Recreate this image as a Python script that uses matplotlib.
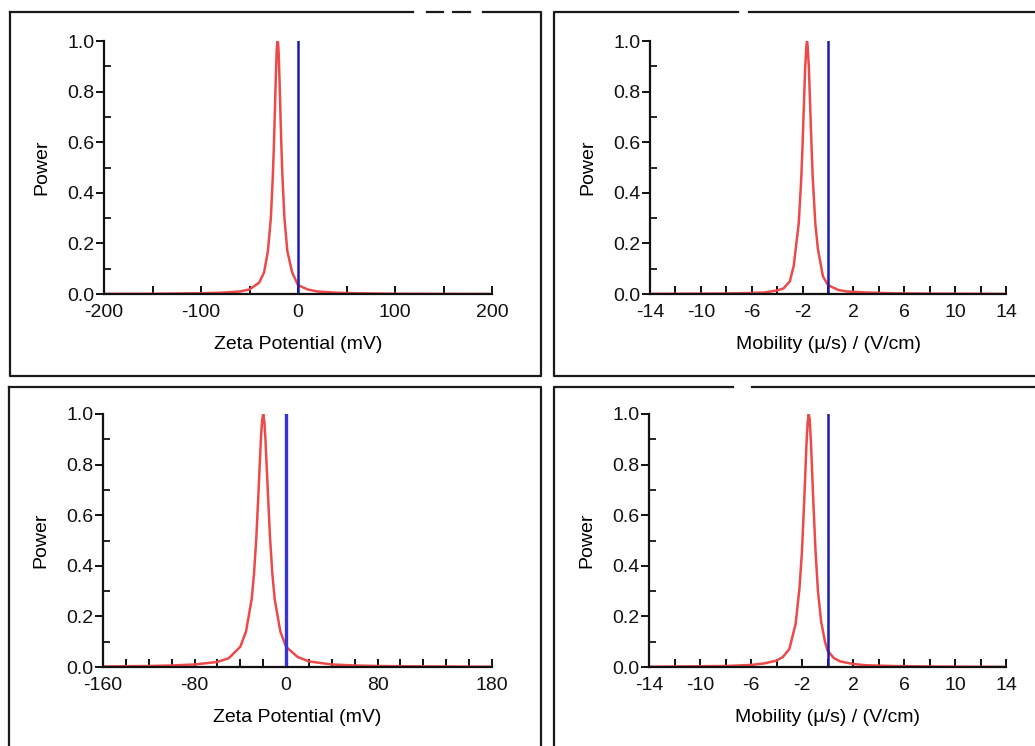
import matplotlib.pyplot as plt
import numpy as np
from matplotlib.lines import Line2D

# zeta potential distributions (x in mV, y normalised power)
zeta1_x = [-200, -150, -100, -80, -60, -50, -40, -35, -31, -28, -26, -25, -24, -23, -22, -21.5, -21,
           -20.5, -20, -19, -18, -17, -16, -14, -11, -6, 0, 10, 20, 40, 60, 100, 150, 200]
zeta1_y = [0.0005, 0.001, 0.003, 0.005, 0.01, 0.018, 0.045, 0.085, 0.17, 0.3, 0.46, 0.57, 0.7, 0.84, 0.96, 0.99, 1.0,
           0.99, 0.96, 0.84, 0.7, 0.57, 0.46, 0.3, 0.17, 0.085, 0.035, 0.018, 0.01, 0.005, 0.003, 0.001, 0.0005, 0.0003]

zeta2_x = [-160, -140, -120, -100, -80, -60, -50, -40, -35, -30, -28, -26, -24, -22, -21, -20,
           -19, -18, -16, -14, -12, -10, -5, 0, 10, 20, 40, 60, 80, 100, 140, 180]
zeta2_y = [0.002, 0.003, 0.004, 0.006, 0.01, 0.02, 0.035, 0.08, 0.14, 0.27, 0.37, 0.51, 0.7, 0.9, 0.97, 1.0,
           0.97, 0.9, 0.7, 0.51, 0.37, 0.27, 0.14, 0.08, 0.04, 0.022, 0.01, 0.006, 0.004, 0.003, 0.002, 0.001]

# mobility distributions ((um/s)/(V/cm))
mob1_x = [-14, -12, -10, -8, -6, -5, -4, -3.5, -3.0, -2.7, -2.3, -2.1, -2.0, -1.9, -1.8, -1.7, -1.65,
          -1.6, -1.5, -1.4, -1.3, -1.2, -1.0, -0.8, -0.4, 0, 0.8, 1.5, 3, 5, 8, 11, 14]
mob1_y = [0.0005, 0.001, 0.0015, 0.002, 0.004, 0.006, 0.014, 0.022, 0.05, 0.11, 0.28, 0.46, 0.59, 0.74, 0.89, 0.98, 1.0,
          0.98, 0.89, 0.74, 0.59, 0.46, 0.28, 0.18, 0.07, 0.035, 0.016, 0.01, 0.006, 0.003, 0.0015, 0.001, 0.0005]

mob2_x = [-14, -12, -10, -8, -6, -5, -4, -3.5, -3, -2.5, -2.2, -2.0, -1.8, -1.65, -1.55, -1.47,
          -1.4, -1.3, -1.1, -0.95, -0.75, -0.5, -0.2, 0, 0.5, 1, 2, 3, 5, 8, 11, 14]
mob2_y = [0.001, 0.002, 0.003, 0.004, 0.008, 0.014, 0.025, 0.04, 0.07, 0.17, 0.31, 0.46, 0.69, 0.88, 0.97, 1.0,
          0.98, 0.89, 0.64, 0.47, 0.3, 0.18, 0.1, 0.065, 0.035, 0.022, 0.012, 0.007, 0.004, 0.002, 0.001, 0.0005]

zeta1_ticks = [-200, -150, -100, -50, 0, 50, 100, 150, 200]
zeta1_labels = ["-200", "", "-100", "", "0", "", "100", "", "200"]
zeta2_ticks = list(range(-160, 181, 20))
zeta2_labels = {-160: "-160", -80: "-80", 0: "0", 80: "80", 180: "180"}
mob_ticks = list(range(-14, 15, 2))
mob_labels = ["-14", "", "-10", "", "-6", "", "-2", "", "2", "", "6", "", "10", "", "14"]

W, H = 1035, 746
plt.rcParams['font.family'] = ['Liberation Sans', 'DejaVu Sans']
plt.rcParams['font.size'] = 14

fig = plt.figure(figsize=(W / 100, H / 100), dpi=100)


def px_axes(left, top, right, bottom):
    return fig.add_axes([left / W, 1 - bottom / H, (right - left) / W, (bottom - top) / H])


def px_line(xs, ys):
    fig.add_artist(Line2D([x / W for x in xs], [1 - y / H for y in ys],
                          transform=fig.transFigure, color="#1a1a1a", lw=1.6))


def style(ax, xmin, xmax, ticks, labels, xlabel):
    ax.set_xlim(xmin, xmax)
    ax.set_ylim(0, 1.0)
    for s in ["top", "right"]:
        ax.spines[s].set_visible(False)
    for s in ["left", "bottom"]:
        ax.spines[s].set_linewidth(1.6)
        ax.spines[s].set_color("#111111")
    ax.set_xticks(ticks)
    ax.set_xticklabels(labels)
    ax.set_yticks([0, 0.2, 0.4, 0.6, 0.8, 1.0])
    ax.set_yticklabels(["0.0", "0.2", "0.4", "0.6", "0.8", "1.0"])
    ax.set_yticks(np.arange(0.1, 1.0, 0.2), minor=True)
    ax.tick_params(axis="x", direction="in", length=6, width=1.4, pad=7, colors="#111111")
    ax.tick_params(axis="y", which="major", direction="out", length=6, width=1.4, pad=1, colors="#111111")
    ax.tick_params(axis="y", which="minor", direction="in", length=5, width=1.2)
    ax.set_xlabel(xlabel, labelpad=11)
    ax.set_ylabel("Power", labelpad=12)
    ax.patch.set_alpha(0)


# panel frames (with the small gaps in the scanned borders)
px_line([10, 413], [12, 12])
px_line([427, 443], [12, 12])
px_line([453, 470], [12, 12])
px_line([483, 541, 541, 10, 10], [12, 12, 376, 376, 12])
px_line([738, 554, 554, 1040], [12, 12, 376, 376])
px_line([749, 1040], [12, 12])
px_line([9, 541, 541], [387, 387, 760])
px_line([9, 9], [387, 760])
px_line([733, 554, 554], [387, 387, 760])
px_line([752, 1040], [387, 387])

red = "#ec4a4a"

ax1 = px_axes(104, 41, 492, 294)
ax1.plot(zeta1_x, zeta1_y, color=red, lw=1.8)
ax1.plot([0, 0], [0, 1], color="#1c1ca6", lw=1.8)
style(ax1, -200, 200, zeta1_ticks, zeta1_labels, "Zeta Potential (mV)")

ax2 = px_axes(650, 41, 1006, 294)
ax2.plot(mob1_x, mob1_y, color=red, lw=1.8)
ax2.plot([0, 0], [0, 1], color="#1c1ca6", lw=1.8)
style(ax2, -14, 14, mob_ticks, mob_labels, "Mobility (µ/s) / (V/cm)")

ax3 = px_axes(103, 414, 492, 667)
ax3.plot(zeta2_x, zeta2_y, color=red, lw=1.8)
ax3.plot([0, 0], [0, 1], color="#3434d8", lw=2.4)
style(ax3, -160, 180, zeta2_ticks, [zeta2_labels.get(t, "") for t in zeta2_ticks], "Zeta Potential (mV)")

ax4 = px_axes(649, 414, 1006, 667)
ax4.plot(mob2_x, mob2_y, color=red, lw=1.8)
ax4.plot([0, 0], [0, 1], color="#1c1ca6", lw=1.8)
style(ax4, -14, 14, mob_ticks, mob_labels, "Mobility (µ/s) / (V/cm)")

fig.savefig("out.png", dpi=100)
